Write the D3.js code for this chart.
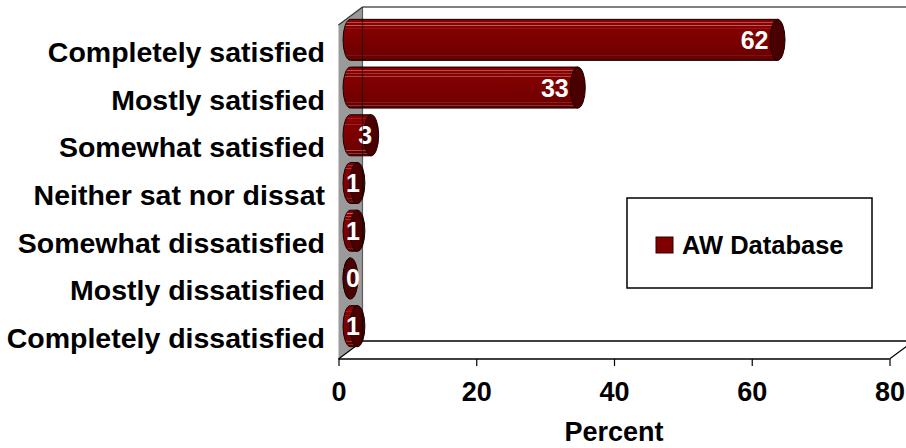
<!DOCTYPE html>
<html><head><meta charset="utf-8">
<script src="https://cdn.jsdelivr.net/npm/d3@7"></script>
<style>html,body{margin:0;padding:0;background:#fff;}svg{display:block;font-family:"Liberation Sans",Arial,sans-serif;font-weight:bold;}</style>
</head><body>
<svg id="chart" width="906" height="448"></svg>
<script>
const categories = ["Completely satisfied","Mostly satisfied","Somewhat satisfied","Neither sat nor dissat","Somewhat dissatisfied","Mostly dissatisfied","Completely dissatisfied"];
const values = [62, 33, 3, 1, 1, 0, 1];
const xTicks = [0, 20, 40, 60, 80];
const seriesName = "AW Database";
const axisTitle = "Percent";

const svg = d3.select("#chart");
const W = 906, H = 448;
const dx = 24, dy = -18;           // 3D depth offset
const x = d3.scaleLinear().domain([0, 80]).range([338.5, 889.5]);
const y = d3.scaleBand().domain(categories).range([25, 359]);
const x0 = x(0), yTop = y.range()[0], yBot = y.range()[1];

const defs = svg.append("defs");
const grad = defs.append("linearGradient").attr("id","barGrad").attr("x1",0).attr("y1",0).attr("x2",0).attr("y2",1);
[[0,"#6a0000"],[0.04,"#8e0000"],[0.07,"#8e0000"],[0.08,"#c46a6a"],[0.095,"#8c0000"],[0.14,"#8a0000"],[0.15,"#b85c5c"],[0.165,"#880000"],
 [0.22,"#840000"],[0.23,"#a84848"],[0.245,"#820000"],[0.5,"#7c0000"],[0.8,"#720000"],[0.86,"#700000"],[0.87,"#a45050"],[0.885,"#6c0000"],
 [0.93,"#680000"],[0.94,"#9a4a4a"],[0.955,"#640000"],[1,"#4a0000"]]
 .forEach(([o,c]) => grad.append("stop").attr("offset",o).attr("stop-color",c));

// back wall top edge
svg.append("line").attr("x1",x0+dx).attr("y1",yTop+dy).attr("x2",W).attr("y2",yTop+dy)
  .attr("stroke","#808080").attr("stroke-width",2);
// side wall
svg.append("path").attr("d",`M${x0},${yTop}L${x0+dx},${yTop+dy}L${x0+dx},${yBot+dy}L${x0},${yBot}Z`)
  .attr("fill","#9a9a9a").attr("stroke","none");
svg.append("line").attr("x1",x0).attr("y1",yTop).attr("x2",x0+dx).attr("y2",yTop+dy).attr("stroke","#333").attr("stroke-width",1.2);
// floor
svg.append("line").attr("x1",x0+dx).attr("y1",yBot+dy).attr("x2",W).attr("y2",yBot+dy).attr("stroke","#000").attr("stroke-width",1.3);
svg.append("line").attr("x1",x0).attr("y1",yBot).attr("x2",x(80)).attr("y2",yBot).attr("stroke","#000").attr("stroke-width",1.3);
svg.append("line").attr("x1",x(80)).attr("y1",yBot).attr("x2",x(80)+dx).attr("y2",yBot+dy).attr("stroke","#000").attr("stroke-width",1.2);
svg.append("line").attr("x1",x0).attr("y1",yBot).attr("x2",x0+dx).attr("y2",yBot+dy).attr("stroke","#000").attr("stroke-width",1.2);

// x axis ticks + labels
const xAxis = d3.axisBottom(x).tickValues(xTicks).tickSize(7).tickSizeOuter(0).tickPadding(16);
const gx = svg.append("g").attr("transform",`translate(0,${yBot})`).call(xAxis);
gx.select(".domain").remove();
gx.selectAll(".tick line").attr("stroke","#000").attr("stroke-width",1.2);
gx.selectAll(".tick text").attr("font-size",27).attr("font-weight","bold").attr("fill","#000")
  .attr("font-family","'Liberation Sans',Arial,sans-serif").attr("dy","0.72em");

svg.append("text").attr("x",(x(0)+x(80))/2).attr("y",441).attr("text-anchor","middle")
  .attr("font-size",27).attr("fill","#000").text(axisTitle);

// category labels
svg.append("g").selectAll("text").data(categories).join("text")
  .attr("x",325).attr("y",d => y(d)+y.bandwidth()/2+3)
  .attr("text-anchor","end").attr("dominant-baseline","central")
  .attr("font-size",28.5).attr("fill","#000").text(d => d);

// bars (cylinders)
const rx = 7.5, ry = y.bandwidth()*0.43;
const data = categories.map((c,i) => ({c, v: values[i]}));
const bars = svg.append("g").selectAll("g").data(data).join("g");
bars.each(function(d){
  const g = d3.select(this);
  const cy = y(d.c) + y.bandwidth()/2 + dy/2;
  const xa = x(0) + dx/2, xb = x(d.v) + dx/2;
  const t = cy - ry, b = cy + ry;
  g.append("path")
   .attr("d",`M${xa},${t}L${xb},${t}L${xb},${b}L${xa},${b}A${rx},${ry} 0 0 1 ${xa},${t}Z`)
   .attr("fill","url(#barGrad)").attr("stroke","#1a0000").attr("stroke-width",1);
  g.append("ellipse").attr("cx",xb).attr("cy",cy).attr("rx",rx).attr("ry",ry)
   .attr("fill","#4a0000").attr("stroke","#1a0000").attr("stroke-width",1);
});
// back wall edge seen through bars
svg.append("line").attr("x1",x0+dx).attr("y1",yTop+dy).attr("x2",x0+dx).attr("y2",yBot+dy)
  .attr("stroke","#000").attr("stroke-width",1.2).attr("stroke-opacity",0.55);

// data labels
bars.append("text")
  .attr("x", d => { const xb = x(d.v)+dx/2; return d.v >= 10 ? xb - 9 : Math.max(xb + 1, 360); })
  .attr("y", d => y(d.c) + y.bandwidth()/2 + dy/2)
  .attr("text-anchor","end").attr("dominant-baseline","central")
  .attr("font-size",25).attr("fill","#fff").text(d => d.v);

// legend
const lg = svg.append("g");
lg.append("rect").attr("x",627).attr("y",198).attr("width",245).attr("height",90)
  .attr("fill","#fff").attr("stroke","#000").attr("stroke-width",1.5);
lg.append("rect").attr("x",656).attr("y",237).attr("width",17).attr("height",16)
  .attr("fill","#800000").attr("stroke","#300000").attr("stroke-width",1);
lg.append("text").attr("x",682).attr("y",245).attr("dominant-baseline","central")
  .attr("font-size",25.5).attr("fill","#000").text(seriesName);
</script>
</body></html>
